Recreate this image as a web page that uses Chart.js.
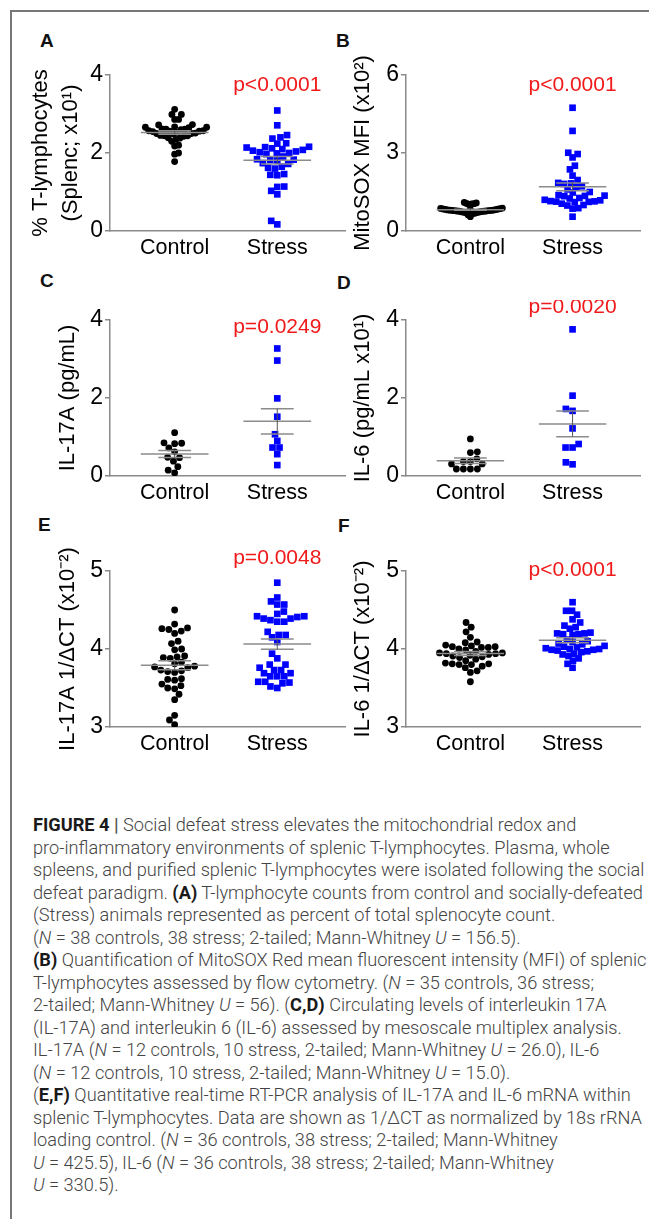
<!DOCTYPE html>
<html>
<head>
<meta charset="utf-8">
<script src="https://cdn.jsdelivr.net/npm/chart.js@4.4.1/dist/chart.umd.min.js"></script>
<style>
  body { margin: 0; background: #fff; width: 649px; height: 1219px; position: relative; overflow: hidden;
         font-family: 'Liberation Sans', Arial, sans-serif; }
  .frame { position: absolute; left: 10px; top: 10px; width: 700px; height: 1300px;
           border-left: 2px solid #777; border-top: 2px solid #777; }
  canvas { position: absolute; }
  .lbl { position: absolute; font-weight: bold; font-size: 19px; line-height: 19px; color: #111; }
  .cap { position: absolute; left: 33px; top: 814px; font-family: Roboto, 'Liberation Sans', sans-serif;
         font-weight: 300; font-size: 16px; line-height: 22.5px; color: #444; }
  .cap div { white-space: nowrap; }
  .cap b { font-weight: bold; color: #1a1a1a; }
  .cap .sep { color: #555; font-weight: bold; }
</style>
</head>
<body>
<div class="frame"></div>
<div class="lbl" style="left:40px;top:31px">A</div>
<div class="lbl" style="left:336px;top:31px">B</div>
<div class="lbl" style="left:40px;top:271px">C</div>
<div class="lbl" style="left:337px;top:273px">D</div>
<div class="lbl" style="left:38px;top:515px">E</div>
<div class="lbl" style="left:338px;top:516px">F</div>

<div class="cap" id="cap">
<div><b>FIGURE 4</b> <span class="sep">|</span> Social defeat stress elevates the mitochondrial redox and</div>
<div>pro-inflammatory environments of splenic T-lymphocytes. Plasma, whole</div>
<div><span id="fitline">spleens, and purified splenic T-lymphocytes were isolated following the social</span></div>
<div>defeat paradigm. <b>(A)</b> T-lymphocyte counts from control and socially-defeated</div>
<div>(Stress) animals represented as percent of total splenocyte count.</div>
<div>(<i>N</i> = 38 controls, 38 stress; 2-tailed; Mann-Whitney <i>U</i> = 156.5).</div>
<div><b>(B)</b> Quantification of MitoSOX Red mean fluorescent intensity (MFI) of splenic</div>
<div>T-lymphocytes assessed by flow cytometry. (<i>N</i> = 35 controls, 36 stress;</div>
<div>2-tailed; Mann-Whitney <i>U</i> = 56). (<b>C,D)</b> Circulating levels of interleukin 17A</div>
<div>(IL-17A) and interleukin 6 (IL-6) assessed by mesoscale multiplex analysis.</div>
<div>IL-17A (<i>N</i> = 12 controls, 10 stress, 2-tailed; Mann-Whitney <i>U</i> = 26.0), IL-6</div>
<div>(<i>N</i> = 12 controls, 10 stress, 2-tailed; Mann-Whitney <i>U</i> = 15.0).</div>
<div>(<b>E,F)</b> Quantitative real-time RT-PCR analysis of IL-17A and IL-6 mRNA within</div>
<div>splenic T-lymphocytes. Data are shown as 1/&Delta;CT as normalized by 18s rRNA</div>
<div>loading control. (<i>N</i> = 36 controls, 38 stress; 2-tailed; Mann-Whitney</div>
<div><i>U</i> = 425.5), IL-6 (<i>N</i> = 36 controls, 38 stress; 2-tailed; Mann-Whitney</div>
<div><i>U</i> = 330.5).</div>
</div>

<script>
const groups = ['Control', 'Stress']

// A - % T-lymphocytes (x10^1)
const tLymphControl = [3.12, 2.99, 2.99, 2.86, 2.86, 2.73, 2.72, 2.67, 2.66, 2.66, 2.65, 2.62, 2.61, 2.61, 2.60, 2.57, 2.57, 2.56,
  2.56, 2.53, 2.51, 2.50, 2.50, 2.49, 2.45, 2.44, 2.44, 2.43, 2.39, 2.38, 2.35, 2.30, 2.20, 2.18, 2.00, 1.97, 1.78, 2.55]
const tLymphStress = [3.09, 2.71, 2.46, 2.40, 2.37, 2.25, 2.24, 2.16, 2.15, 2.14, 2.12, 2.10, 2.08, 2.06, 2.04, 2.02, 2.00, 1.99, 1.97,
  1.91, 1.84, 1.83, 1.82, 1.81, 1.74, 1.72, 1.65, 1.62, 1.60, 1.46, 1.44, 1.43, 1.14, 1.13, 1.03, 0.94, 0.26, 0.17]

// B - MitoSOX MFI (x10^2)
const mitoControl = [1.10, 1.08, 1.06, 1.05, 1.04, 1.02, 0.88, 0.87, 0.86, 0.85, 0.84, 0.83, 0.82, 0.82, 0.81, 0.80, 0.80, 0.79,
  0.79, 0.78, 0.78, 0.77, 0.77, 0.76, 0.76, 0.75, 0.74, 0.73, 0.72, 0.71, 0.70, 0.68, 0.66, 0.62, 0.55]
const mitoStress = [4.74, 3.85, 3.01, 2.96, 2.83, 2.51, 2.37, 2.13, 1.96, 1.85, 1.83, 1.81, 1.72, 1.70, 1.60, 1.50, 1.48, 1.38,
  1.36, 1.35, 1.34, 1.27, 1.25, 1.20, 1.18, 1.15, 1.14, 1.13, 1.12, 1.11, 1.05, 1.00, 0.98, 0.88, 0.86, 0.55]

// C - IL-17A (pg/mL)
const il17Control = [1.11, 0.85, 0.84, 0.83, 0.72, 0.62, 0.48, 0.47, 0.38, 0.24, 0.15, 0.08]
const il17Stress = [3.27, 2.96, 1.99, 1.52, 1.07, 0.90, 0.73, 0.73, 0.56, 0.28]

// D - IL-6 (pg/mL x10^1)
const il6Control = [0.95, 0.62, 0.60, 0.44, 0.37, 0.37, 0.31, 0.31, 0.18, 0.18, 0.18, 0.18]
const il6Stress = [3.76, 2.06, 1.72, 1.67, 1.22, 0.82, 0.73, 0.73, 0.35, 0.30]

// E - IL-17A 1/dCT (x10^-2)
const il17CtControl = [4.50, 4.32, 4.27, 4.26, 4.25, 4.23, 4.20, 4.10, 4.07, 4.00, 3.99, 3.91, 3.90, 3.89, 3.88, 3.83, 3.81, 3.78,
  3.77, 3.76, 3.73, 3.72, 3.71, 3.70, 3.62, 3.61, 3.60, 3.55, 3.53, 3.50, 3.49, 3.42, 3.35, 3.15, 3.09, 3.03]
const il17CtStress = [4.85, 4.66, 4.61, 4.57, 4.57, 4.48, 4.45, 4.42, 4.42, 4.41, 4.39, 4.39, 4.37, 4.35, 4.35, 4.22, 4.18, 4.18,
  4.15, 4.09, 3.94, 3.88, 3.80, 3.80, 3.76, 3.73, 3.73, 3.69, 3.69, 3.65, 3.65, 3.65, 3.58, 3.58, 3.57, 3.56, 3.52, 3.50]

// F - IL-6 1/dCT (x10^-2)
const il6CtControl = [4.34, 4.28, 4.22, 4.15, 4.09, 4.08, 4.05, 4.04, 4.03, 4.03, 4.02, 4.02, 4.00, 3.99, 3.97, 3.95, 3.95, 3.94,
  3.94, 3.93, 3.92, 3.91, 3.90, 3.89, 3.87, 3.85, 3.82, 3.81, 3.81, 3.80, 3.80, 3.78, 3.76, 3.72, 3.70, 3.58]
const il6CtStress = [4.60, 4.49, 4.49, 4.44, 4.38, 4.34, 4.30, 4.28, 4.26, 4.21, 4.20, 4.20, 4.19, 4.19, 4.18, 4.12, 4.10, 4.09,
  4.07, 4.06, 4.04, 4.03, 4.02, 4.01, 4.00, 4.00, 3.99, 3.99, 3.98, 3.97, 3.96, 3.94, 3.93, 3.91, 3.88, 3.85, 3.81, 3.76]

const pLabels = ['p<0.0001', 'p<0.0001', 'p=0.0249', 'p=0.0020', 'p=0.0048', 'p<0.0001']
const yTicksA = [0, 2, 4]
const yTicksB = [0, 3, 6]
const yTicksCD = [0, 2, 4]
const yTicksEF = [3, 4, 5]

// layout of the page (pixels)
const colGeom = [
  { L: 12, W: 338, ax: 110, axR: 345, titlePad: 14 },
  { L: 340, W: 305, ax: 406, axR: 640, titlePad: 8 }
]
const rowGeom = [
  { T: 55, H: 210, top: 75, bot: 231 },
  { T: 300, H: 210, top: 320, bot: 476 },
  { T: 545, H: 220, top: 571, bot: 727 }
]

const panels = [
  { ctrl: tLymphControl, str: tLymphStress, ticks: yTicksA, title: ['% T-lymphocytes', '(Splenc; x10\u00b9)'], p: pLabels[0], col: 0, row: 0, pOff: 10 },
  { ctrl: mitoControl, str: mitoStress, ticks: yTicksB, title: 'MitoSOX MFI (x10\u00b2)', p: pLabels[1], col: 1, row: 0, pOff: 10 },
  { ctrl: il17Control, str: il17Stress, ticks: yTicksCD, title: 'IL-17A (pg/mL)', p: pLabels[2], col: 0, row: 1, pOff: 7, titlePad: 41 },
  { ctrl: il6Control, str: il6Stress, ticks: yTicksCD, title: 'IL-6 (pg/mL x10\u00b9)', p: pLabels[3], col: 1, row: 1, pOff: -13 },
  { ctrl: il17CtControl, str: il17CtStress, ticks: yTicksEF, title: 'IL-17A 1/\u0394CT (x10\u207b\u00b2)', p: pLabels[4], col: 0, row: 2, pOff: -13, titlePad: 41 },
  { ctrl: il6CtControl, str: il6CtStress, ticks: yTicksEF, title: 'IL-6 1/\u0394CT (x10\u207b\u00b2)', p: pLabels[5], col: 1, row: 2, pOff: -1 }
]

const FONT = "'Liberation Sans', Arial, sans-serif"
Chart.defaults.font.family = FONT

// beeswarm: each point as close to the group centre as it can go, then squeezed to a max width
function swarm(values, cx, xs, ys, d, maxHalf) {
  const cpx = xs.getPixelForValue(cx)
  const order = values.map((v, i) => i).sort((a, b) => values[a] - values[b])
  const placed = []
  const offs = new Array(values.length)
  order.forEach((i, k) => {
    const py = ys.getPixelForValue(values[i])
    let cands = [0]
    placed.forEach(p => {
      const dy = Math.abs(p.py - py)
      if (dy < d) {
        const dx = Math.sqrt(d * d - dy * dy)
        cands.push(p.dx + dx, p.dx - dx)
      }
    })
    // alternate the side that wins a tie
    cands.sort((a, b) => (Math.abs(a) - Math.abs(b)) || (k % 2 ? a - b : b - a))
    let best = 0
    for (const c of cands) {
      if (placed.every(p => (p.dx - c) ** 2 + (p.py - py) ** 2 >= d * d - 0.01)) { best = c; break }
    }
    placed.push({ dx: best, py })
    offs[i] = best
  })
  const widest = Math.max(...offs.map(Math.abs))
  const k = widest > maxHalf ? maxHalf / widest : 1
  return values.map((v, i) => ({ x: xs.getValueForPixel(cpx + offs[i] * k), y: v }))
}

// mean +/- SEM lines
const meanSem = {
  id: 'meanSem',
  afterDatasetsDraw(chart) {
    const { ctx } = chart
    const xs = chart.scales.x, ys = chart.scales.y
    chart.data.datasets.forEach((ds, i) => {
      const vals = ds.data.map(p => p.y)
      const n = vals.length
      const m = vals.reduce((a, b) => a + b, 0) / n
      const sd = Math.sqrt(vals.reduce((a, b) => a + (b - m) ** 2, 0) / (n - 1))
      const se = sd / Math.sqrt(n)
      const px = xs.getPixelForValue(i + 1)
      const hw = xs.getPixelForValue(i + 1.33) - px
      const cw = xs.getPixelForValue(i + 1.16) - px
      const yM = ys.getPixelForValue(m), yU = ys.getPixelForValue(m + se), yL = ys.getPixelForValue(m - se)
      ctx.save()
      ctx.strokeStyle = '#8c8c8c'
      ctx.lineWidth = 1.5
      ctx.beginPath()
      ctx.moveTo(px - hw, yM); ctx.lineTo(px + hw, yM)
      ctx.moveTo(px - cw, yU); ctx.lineTo(px + cw, yU)
      ctx.moveTo(px - cw, yL); ctx.lineTo(px + cw, yL)
      ctx.stroke()
      ctx.strokeStyle = '#555'
      ctx.lineWidth = 1
      ctx.beginPath()
      ctx.moveTo(px, yU); ctx.lineTo(px, yL)
      ctx.stroke()
      ctx.restore()
    })
  }
}

function makePanel(cfg) {
  const cg = colGeom[cfg.col], rg = rowGeom[cfg.row]
  const cv = document.createElement('canvas')
  cv.width = cg.W
  cv.height = rg.H
  cv.style.left = cg.L + 'px'
  cv.style.top = rg.T + 'px'
  document.body.appendChild(cv)

  const pText = {
    id: 'pText',
    afterDraw(c) {
      const ctx = c.ctx
      ctx.save()
      ctx.font = '21px ' + FONT
      ctx.fillStyle = '#f01a1a'
      ctx.textAlign = 'center'
      ctx.textBaseline = 'middle'
      ctx.fillText(cfg.p, c.scales.x.getPixelForValue(2), c.chartArea.top + cfg.pOff)
      ctx.restore()
    }
  }

  const chart = new Chart(cv, {
    type: 'scatter',
    data: {
      datasets: [
        { data: cfg.ctrl.map(v => ({ x: 1, y: v })), pointStyle: 'circle', pointRadius: 3.4, backgroundColor: '#000', borderWidth: 0 },
        { data: cfg.str.map(v => ({ x: 2, y: v })), pointStyle: 'rect', pointRadius: 4.7, backgroundColor: '#0000ff', borderWidth: 0 }
      ]
    },
    options: {
      responsive: false,
      animation: false,
      events: [],
      layout: { padding: { top: rg.top - rg.T, right: cg.L + cg.W - cg.axR, left: 0, bottom: 0 } },
      plugins: { legend: { display: false }, tooltip: { enabled: false } },
      scales: {
        x: {
          type: 'linear', min: 0.37, max: 2.66,
          afterFit: s => { s.height = rg.T + rg.H - rg.bot },
          afterBuildTicks: s => { s.ticks = [{ value: 1 }, { value: 2 }] },
          ticks: { callback: v => groups[v - 1], font: { size: 21.5 }, color: '#000', padding: 4, maxRotation: 0, autoSkip: false },
          grid: { display: false, drawTicks: false },
          border: { color: '#8a8a8a', width: 1.5 }
        },
        y: {
          min: cfg.ticks[0], max: cfg.ticks[cfg.ticks.length - 1],
          afterFit: s => { s.width = cg.ax - cg.L },
          afterBuildTicks: s => { s.ticks = cfg.ticks.map(v => ({ value: v })) },
          ticks: { font: { size: 23 }, color: '#000', padding: 2 },
          grid: { drawOnChartArea: false, drawTicks: true, tickLength: 5, color: '#8a8a8a', lineWidth: 1.5 },
          border: { color: '#8a8a8a', width: 1.5 },
          title: { display: true, text: cfg.title, color: '#000', font: { size: 22, lineHeight: 1.36 },
                   padding: { top: cfg.titlePad !== undefined ? cfg.titlePad : cg.titlePad, bottom: 0 } }
        }
      }
    },
    plugins: [meanSem, pText]
  })

  chart.data.datasets[0].data = swarm(cfg.ctrl, 1, chart.scales.x, chart.scales.y, 7, 32)
  chart.data.datasets[1].data = swarm(cfg.str, 2, chart.scales.x, chart.scales.y, 7, 32)
  chart.update('none')
}

panels.forEach(makePanel)

// fit the caption width to the reference column
const fit = document.getElementById('fitline')
const w = fit.getBoundingClientRect().width
if (w > 0) document.getElementById('cap').style.fontSize = (16 * 612 / w).toFixed(2) + 'px'
</script>
</body>
</html>
